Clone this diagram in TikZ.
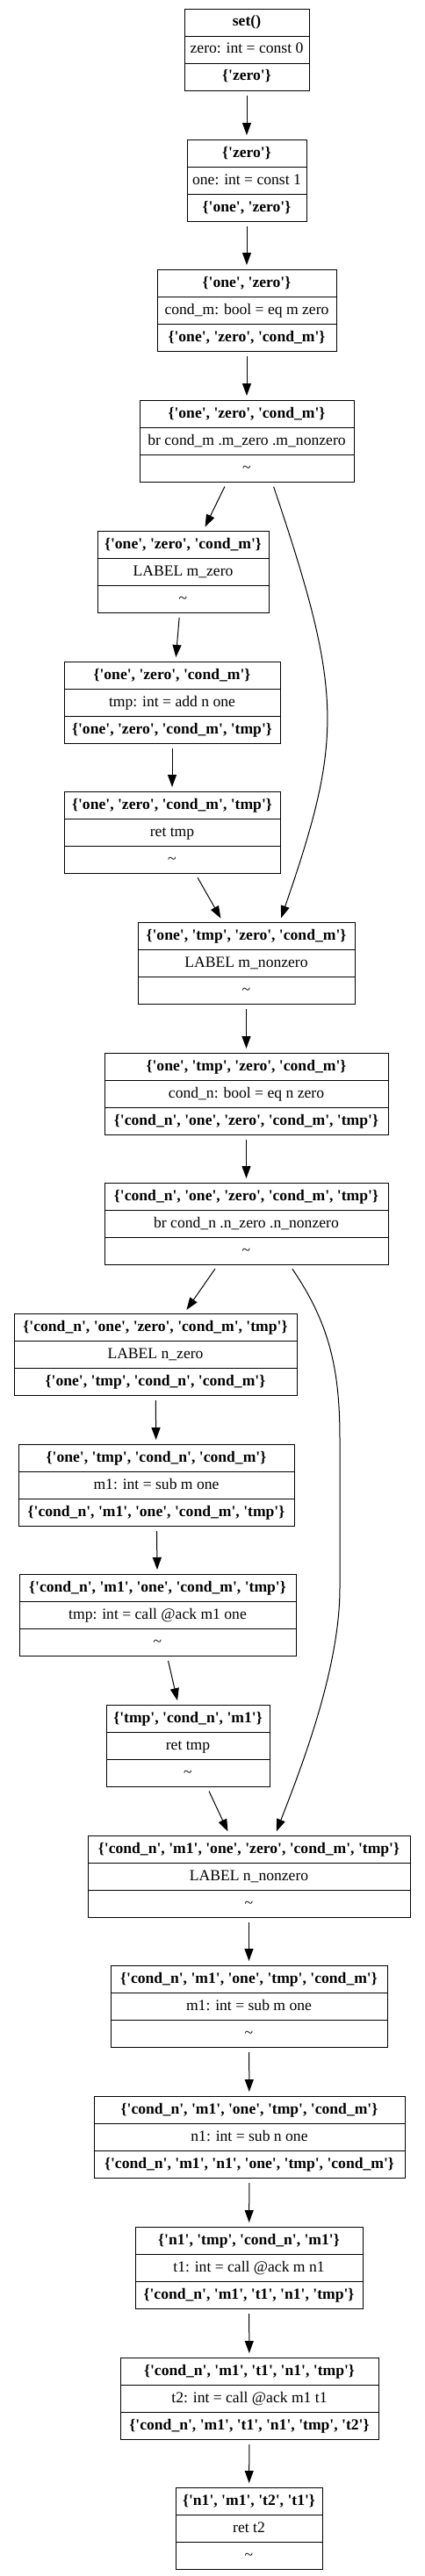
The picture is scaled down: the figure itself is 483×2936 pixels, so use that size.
\documentclass[tikz,border=0pt]{standalone}
\usepackage{fontspec}
\setmainfont{Liberation Serif}[Ligatures=TeXOff]
\usetikzlibrary{shapes.multipart,arrows.meta}
\newcommand{\rowstrut}{\rule[-5pt]{0pt}{18pt}}
\newcommand{\rec}[3]{\rowstrut#1\nodepart{two}\rowstrut#2\nodepart{three}\rowstrut#3}
\newcommand{\nil}{\textasciitilde}
\begin{document}
\begin{tikzpicture}[x=1pt,y=1pt,
  blk/.style={draw, line width=1pt, rectangle split, rectangle split parts=3,
    anchor=north, inner xsep=3pt, inner ysep=6pt,
    font=\fontsize{17.6}{20}\selectfont},
  arr/.style={-{Triangle[length=14pt,width=10pt]}, line width=1pt,
    shorten <=5pt, shorten >=5pt}]
\useasboundingbox (0,0) rectangle (483,-2936);
% blocks, top to bottom
\node[blk, minimum width=142pt] (set) at (281,-10) {\rec{\textbf{set()}}{zero: int = const 0}{\textbf{\{'zero'\}}}};
\node[blk, minimum width=136pt] (one) at (281,-159) {\rec{\textbf{\{'zero'\}}}{one: int = const 1}{\textbf{\{'one', 'zero'\}}}};
\node[blk, minimum width=204pt] (condm) at (281,-307) {\rec{\textbf{\{'one', 'zero'\}}}{cond\_m: bool = eq m zero}{\textbf{\{'one', 'zero', 'cond\_m'\}}}};
\node[blk, minimum width=244pt] (brm) at (281,-456) {\rec{\textbf{\{'one', 'zero', 'cond\_m'\}}}{br cond\_m .m\_zero .m\_nonzero}{\nil}};
\node[blk, minimum width=195pt] (mzero) at (208.5,-605) {\rec{\textbf{\{'one', 'zero', 'cond\_m'\}}}{LABEL m\_zero}{\nil}};
\node[blk, minimum width=246pt] (addtmp) at (196,-754) {\rec{\textbf{\{'one', 'zero', 'cond\_m'\}}}{tmp: int = add n one}{\textbf{\{'one', 'zero', 'cond\_m', 'tmp'\}}}};
\node[blk, minimum width=246pt] (rettmp) at (196,-902) {\rec{\textbf{\{'one', 'zero', 'cond\_m', 'tmp'\}}}{ret tmp}{\nil}};
\node[blk, minimum width=247pt] (mnonzero) at (280.5,-1051) {\rec{\textbf{\{'one', 'tmp', 'zero', 'cond\_m'\}}}{LABEL m\_nonzero}{\nil}};
\node[blk, minimum width=323pt] (condn) at (280.5,-1200) {\rec{\textbf{\{'one', 'tmp', 'zero', 'cond\_m'\}}}{cond\_n: bool = eq n zero}{\textbf{\{'cond\_n', 'one', 'zero', 'cond\_m', 'tmp'\}}}};
\node[blk, minimum width=323pt] (brn) at (280.5,-1348) {\rec{\textbf{\{'cond\_n', 'one', 'zero', 'cond\_m', 'tmp'\}}}{br cond\_n .n\_zero .n\_nonzero}{\nil}};
\node[blk, minimum width=322pt] (nzero) at (177,-1497) {\rec{\textbf{\{'cond\_n', 'one', 'zero', 'cond\_m', 'tmp'\}}}{LABEL n\_zero}{\textbf{\{'one', 'tmp', 'cond\_n', 'cond\_m'\}}}};
\node[blk, minimum width=314pt] (subm) at (178,-1646) {\rec{\textbf{\{'one', 'tmp', 'cond\_n', 'cond\_m'\}}}{m1: int = sub m one}{\textbf{\{'cond\_n', 'm1', 'one', 'cond\_m', 'tmp'\}}}};
\node[blk, minimum width=315pt] (calltmp) at (179.5,-1794) {\rec{\textbf{\{'cond\_n', 'm1', 'one', 'cond\_m', 'tmp'\}}}{tmp: int = call @ack m1 one}{\nil}};
\node[blk, minimum width=186pt] (rettmpb) at (214,-1943) {\rec{\textbf{\{'tmp', 'cond\_n', 'm1'\}}}{ret tmp}{\nil}};
\node[blk, minimum width=367pt] (nnonzero) at (283.5,-2092) {\rec{\textbf{\{'cond\_n', 'm1', 'one', 'zero', 'cond\_m', 'tmp'\}}}{LABEL n\_nonzero}{\nil}};
\node[blk, minimum width=315pt] (submb) at (283.5,-2240) {\rec{\textbf{\{'cond\_n', 'm1', 'one', 'tmp', 'cond\_m'\}}}{m1: int = sub m one}{\nil}};
\node[blk, minimum width=354pt] (subn) at (284,-2389) {\rec{\textbf{\{'cond\_n', 'm1', 'one', 'tmp', 'cond\_m'\}}}{n1: int = sub n one}{\textbf{\{'cond\_n', 'm1', 'n1', 'one', 'tmp', 'cond\_m'\}}}};
\node[blk, minimum width=259pt] (callt1) at (283.5,-2538) {\rec{\textbf{\{'n1', 'tmp', 'cond\_n', 'm1'\}}}{t1: int = call @ack m n1}{\textbf{\{'cond\_n', 'm1', 't1', 'n1', 'tmp'\}}}};
\node[blk, minimum width=294pt] (callt2) at (284,-2687) {\rec{\textbf{\{'cond\_n', 'm1', 't1', 'n1', 'tmp'\}}}{t2: int = call @ack m1 t1}{\textbf{\{'cond\_n', 'm1', 't1', 'n1', 'tmp', 't2'\}}}};
\node[blk, minimum width=167pt] (rett) at (283.5,-2835) {\rec{\textbf{\{'n1', 'm1', 't2', 't1'\}}}{ret t2}{\nil}};
% edges
\draw[arr] (set) -- (one);
\draw[arr] (one) -- (condm);
\draw[arr] (condm) -- (brm);
\draw[arr] (brm) -- (mzero);
\draw[arr] ([xshift=29pt]brm.south) .. controls (391,-790) and (391,-841) .. ([xshift=38pt]mnonzero.north);
\draw[arr] (mzero) -- (addtmp);
\draw[arr] (addtmp) -- (rettmp);
\draw[arr] (rettmp) -- (mnonzero);
\draw[arr] (mnonzero) -- (condn);
\draw[arr] (condn) -- (brn);
\draw[arr] (brn) -- (nzero);
\draw[arr] ([xshift=49.5pt]brn.south) .. controls (375,-1508) and (387,-1560) .. (387,-1640)
  -- (387,-1810) .. controls (387,-1900) and (345,-2010) .. ([xshift=29.5pt]nnonzero.north);
\draw[arr] (nzero) -- (subm);
\draw[arr] (subm) -- (calltmp);
\draw[arr] (calltmp) -- (rettmpb);
\draw[arr] (rettmpb) -- (nnonzero);
\draw[arr] (nnonzero) -- (submb);
\draw[arr] (submb) -- (subn);
\draw[arr] (subn) -- (callt1);
\draw[arr] (callt1) -- (callt2);
\draw[arr] (callt2) -- (rett);
\end{tikzpicture}
\end{document}
